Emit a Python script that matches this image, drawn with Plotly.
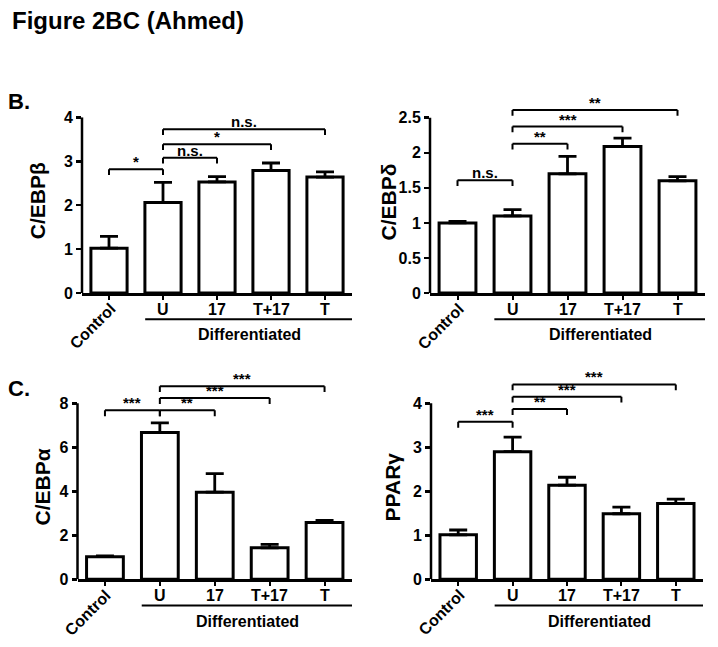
import plotly.graph_objects as go

# ---------------- data ----------------
categories = ["Control", "U", "17", "T+17", "T"]
group_label = "Differentiated"

cebpb_mean = [1.02, 2.06, 2.53, 2.79, 2.64]
cebpb_err = [0.27, 0.46, 0.12, 0.17, 0.12]
cebpd_mean = [1.00, 1.10, 1.70, 2.09, 1.60]
cebpd_err = [0.02, 0.09, 0.25, 0.12, 0.06]
cebpa_mean = [1.03, 6.67, 3.96, 1.43, 2.58]
cebpa_err = [0.03, 0.44, 0.84, 0.16, 0.10]
pparg_mean = [1.01, 2.90, 2.14, 1.49, 1.72]
pparg_err = [0.11, 0.33, 0.18, 0.15, 0.10]

cebpb_ticks = [0, 1, 2, 3, 4]
cebpd_ticks = [0, 0.5, 1, 1.5, 2, 2.5]
cebpa_ticks = [0, 2, 4, 6, 8]
pparg_ticks = [0, 1, 2, 3, 4]

# significance brackets: (from index, to index, level, label)
cebpb_sig = [(0, 1, 2.82, "*"), (1, 2, 3.08, "n.s."), (1, 3, 3.39, "*"), (1, 4, 3.73, "n.s.")]
cebpd_sig = [(0, 1, 1.61, "n.s."), (1, 2, 2.13, "**"), (1, 3, 2.375, "***"), (1, 4, 2.61, "**")]
cebpa_sig = [(0, 1, 7.68, "***"), (1, 2, 7.68, "**"), (1, 3, 8.24, "***"), (1, 4, 8.78, "***")]
pparg_sig = [(0, 1, 3.58, "***"), (1, 2, 3.87, "**"), (1, 3, 4.15, "***"), (1, 4, 4.43, "***")]

# ---------------- layout geometry (pixels) ----------------
W, H = 718, 647
FONT = "Liberation Sans, Arial, sans-serif"

panels = [
    dict(title="C/EBPβ", mean=cebpb_mean, err=cebpb_err, ticks=cebpb_ticks, sig=cebpb_sig,
         x0=82, x1=352, ybot=292.7, ytop=112.3, title_x=37),
    dict(title="C/EBPδ", mean=cebpd_mean, err=cebpd_err, ticks=cebpd_ticks, sig=cebpd_sig,
         x0=430, x1=705, ybot=292.7, ytop=112.7, title_x=388),
    dict(title="C/EBPα", mean=cebpa_mean, err=cebpa_err, ticks=cebpa_ticks, sig=cebpa_sig,
         x0=77.5, x1=352, ybot=586.7, ytop=406, title_x=42),
    dict(title="PPARγ", mean=pparg_mean, err=pparg_err, ticks=pparg_ticks, sig=pparg_sig,
         x0=431, x1=703, ybot=586.7, ytop=406, title_x=392),
]


def PX(px):
    return px / W


def PY(py):
    return 1 - py / H


def bold(size):
    return dict(family=FONT, size=size, color="black", weight="bold")


fig = go.Figure()
shapes = []
annotations = []
layout_axes = {}

for k, p in enumerate(panels, start=1):
    xa = "x" if k == 1 else f"x{k}"
    ya = "y" if k == 1 else f"y{k}"
    xkey = "xaxis" if k == 1 else f"xaxis{k}"
    ykey = "yaxis" if k == 1 else f"yaxis{k}"

    tmax = p["ticks"][-1]
    per_px = tmax / (p["ybot"] - p["ytop"])  # data units per pixel
    top_sig = max(s[2] for s in p["sig"])
    rmax = max(tmax, top_sig + 4 * per_px)
    dom_top_px = p["ybot"] - rmax / per_px

    fig.add_trace(go.Bar(
        x=list(range(len(categories))), y=p["mean"], xaxis=xa, yaxis=ya, width=0.67,
        marker=dict(color="white", line=dict(color="black", width=3)),
        error_y=dict(type="data", array=p["err"], arrayminus=[0] * len(p["err"]),
                     symmetric=False, color="black", thickness=2.8, width=9),
        showlegend=False, hoverinfo="skip",
    ))

    layout_axes[xkey] = dict(
        domain=[PX(p["x0"]), PX(p["x1"])], anchor=ya, range=[-0.5, len(categories) - 0.5],
        tickvals=list(range(len(categories))),
        showline=True, linecolor="black", linewidth=2.5, ticks="outside",
        ticklen=4, tickwidth=2, tickcolor="black", showticklabels=False,
        showgrid=False, zeroline=False,
    )
    layout_axes[ykey] = dict(
        domain=[PY(p["ybot"]), PY(dom_top_px)], anchor=xa, range=[0, rmax],
        tickvals=p["ticks"], ticktext=[f"{t:g}" for t in p["ticks"]],
        ticks="outside", ticklen=5, tickwidth=2.5, tickcolor="black",
        tickfont=bold(16),
        showline=False, showgrid=False, zeroline=False,
    )

    # y axis line only up to the last tick
    shapes.append(dict(type="line", xref=f"{xa} domain", yref=ya, x0=0, x1=0,
                       y0=0, y1=tmax, line=dict(color="black", width=2.5)))

    # significance brackets
    leg = 6 * per_px
    for (i, j, lvl, lab) in p["sig"]:
        for (a0, b0, a1, b1) in [(i, lvl, j, lvl), (i, lvl, i, lvl - leg), (j, lvl, j, lvl - leg)]:
            shapes.append(dict(type="line", xref=xa, yref=ya, x0=a0, y0=b0, x1=a1, y1=b1,
                               line=dict(color="black", width=2)))
        annotations.append(dict(x=(i + j) / 2, y=lvl, xref=xa, yref=ya, text=lab,
                                showarrow=False, yanchor="bottom", yshift=-3,
                                font=bold(15)))

    # category labels
    for ci, c in enumerate(categories):
        if ci == 0:
            annotations.append(dict(x=ci, y=PY(p["ybot"]), xref=xa, yref="paper", text=c,
                                    textangle=-45, showarrow=False, xanchor="right",
                                    yanchor="top", xshift=12, yshift=-4,
                                    font=bold(16)))
        else:
            annotations.append(dict(x=ci, y=PY(p["ybot"] + 17), xref=xa, yref="paper", text=c,
                                    showarrow=False, xanchor="center", yanchor="middle",
                                    font=bold(16)))

    # "Differentiated" group line and label
    shapes.append(dict(type="line", xref=xa, yref="paper", x0=0.67, x1=4.5,
                       y0=PY(p["ybot"] + 27), y1=PY(p["ybot"] + 27),
                       line=dict(color="black", width=2)))
    annotations.append(dict(x=2.6, y=PY(p["ybot"] + 43), xref=xa, yref="paper",
                            text=group_label, showarrow=False, xanchor="center", yanchor="middle",
                            font=bold(16)))

    # y title
    annotations.append(dict(x=PX(p["title_x"]), y=PY((p["ybot"] + p["ytop"]) / 2 - 4),
                            xref="paper", yref="paper", text=p["title"], textangle=-90,
                            showarrow=False, xanchor="center", yanchor="middle",
                            font=bold(21)))

# figure title and panel letters
annotations.append(dict(x=PX(10), y=PY(13), xref="paper", yref="paper", text="Figure 2BC (Ahmed)",
                        showarrow=False, xanchor="left", yanchor="middle",
                        font=bold(24)))
annotations.append(dict(x=PX(6), y=PY(96), xref="paper", yref="paper", text="B.",
                        showarrow=False, xanchor="left", yanchor="middle",
                        font=bold(22)))
annotations.append(dict(x=PX(6), y=PY(391), xref="paper", yref="paper", text="C.",
                        showarrow=False, xanchor="left", yanchor="middle",
                        font=bold(22)))

fig.update_layout(
    width=W, height=H, margin=dict(l=0, r=0, t=0, b=0),
    paper_bgcolor="white", plot_bgcolor="white",
    shapes=shapes, annotations=annotations, showlegend=False,
    font=dict(family=FONT, color="black"),
    **layout_axes,
)

fig.write_html("out.html", config={"displayModeBar": False, "staticPlot": True},
               post_script="document.body.style.margin='0';document.body.style.overflow='hidden';")
